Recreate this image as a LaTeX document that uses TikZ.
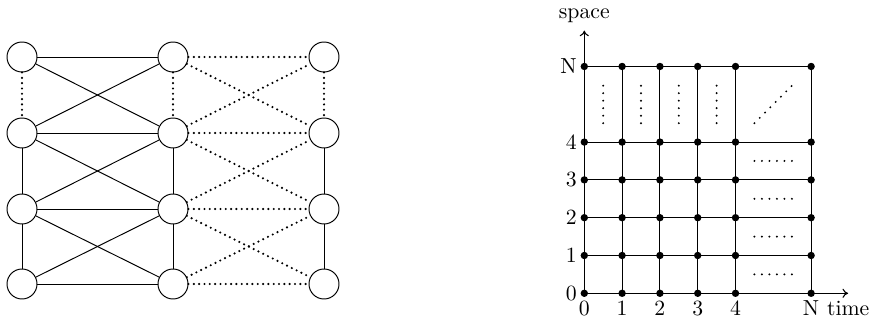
\documentclass[tikz,border=0pt]{standalone}
\usetikzlibrary{arrows.meta}
\begin{document}
\begin{tikzpicture}[x=0.46pt,y=-0.46pt,
  vertex/.style={circle,draw,line width=0.45pt,minimum size=13.8pt,inner sep=0pt},
  solidedge/.style={line width=0.45pt},
  dotedge/.style={line width=1.1pt,line cap=round,dash pattern=on 0pt off 2.45pt},
  gridline/.style={line width=0.5pt},
  gridpt/.style={circle,fill,inner sep=0pt,minimum size=3.4pt},
  ellip/.style={line width=1.0pt,line cap=round,dash pattern=on 0pt off 3.45pt},
  axis/.style={line width=0.5pt,-{To[length=2.6pt,width=4.2pt]}}]
\useasboundingbox (0,0) rectangle (870,320);

% ---- layered graph: three columns of four vertices ----
\foreach \c/\x in {1/22,2/173,3/324}
  \foreach \r/\y in {1/57,2/133,3/209,4/284}
    \node[vertex] (n\c\r) at (\x,\y) {};

% vertical links inside each column
\foreach \c in {1,2,3} {
  \draw[dotedge] (n\c1) -- (n\c2);
  \draw[solidedge] (n\c2) -- (n\c3);
  \draw[solidedge] (n\c3) -- (n\c4);
}
% horizontal links
\foreach \r in {1,2,3,4} {
  \draw[solidedge] (n1\r) -- (n2\r);
  \draw[dotedge] (n2\r) -- (n3\r);
}
% crossing links between neighbouring rows
\foreach \r/\s in {1/2,2/3,3/4} {
  \draw[solidedge] (n1\r) -- (n2\s);
  \draw[solidedge] (n1\s) -- (n2\r);
  \draw[dotedge] (n2\r) -- (n3\s);
  \draw[dotedge] (n2\s) -- (n3\r);
}

% ---- space-time grid ----
\begin{scope}[shift={(584.3,293.3)},x=17.39pt,y=17.39pt]
  \foreach \i in {0,1,2,3,4,6}
    \foreach \j in {0,1,2,3,4,6}
      \coordinate (g\i\j) at (\i,\j);

  \coordinate (xend) at (6.98,0);
  \coordinate (yend) at (0,6.95);
  \draw[axis] (g00) -- (xend);
  \draw[axis] (g00) -- (yend);
  \node[above] (spacelbl) at (yend) {space};
  \node[below] (timelbl) at (xend) {time};

  % horizontal and vertical grid lines
  \foreach \j in {0,1,2,3,4,6}
    \draw[gridline] (g0\j) -- (g1\j) -- (g2\j) -- (g3\j) -- (g4\j) -- (g6\j);
  \foreach \i in {0,1,2,3,4,6}
    \draw[gridline] (g\i0) -- (g\i1) -- (g\i2) -- (g\i3) -- (g\i4) -- (g\i6);

  % grid points
  \foreach \i in {0,1,2,3,4,6}
    \foreach \j in {0,1,2,3,4,6}
      \node[gridpt] (p\i\j) at (g\i\j) {};

  % tick labels
  \foreach \i/\li in {0/0,1/1,2/2,3/3,4/4,6/N}
    \node[below] (tx\i) at (g\i0) {\li};
  \foreach \j/\lj in {0/0,1/1,2/2,3/3,4/4,6/N}
    \node[left] (ty\j) at (g0\j) {\lj};

  % ellipses marking the omitted part of the grid
  \foreach \x in {0.5,1.5,2.5,3.5}
    \draw[ellip] (\x,4.5) -- (\x,5.5);
  \draw[ellip] (4.5,4.5) -- (5.5,5.5);
  \foreach \y in {0.5,1.5,2.5,3.5}
    \draw[ellip] (4.5,\y) -- (5.5,\y);
\end{scope}
\end{tikzpicture}
\end{document}
